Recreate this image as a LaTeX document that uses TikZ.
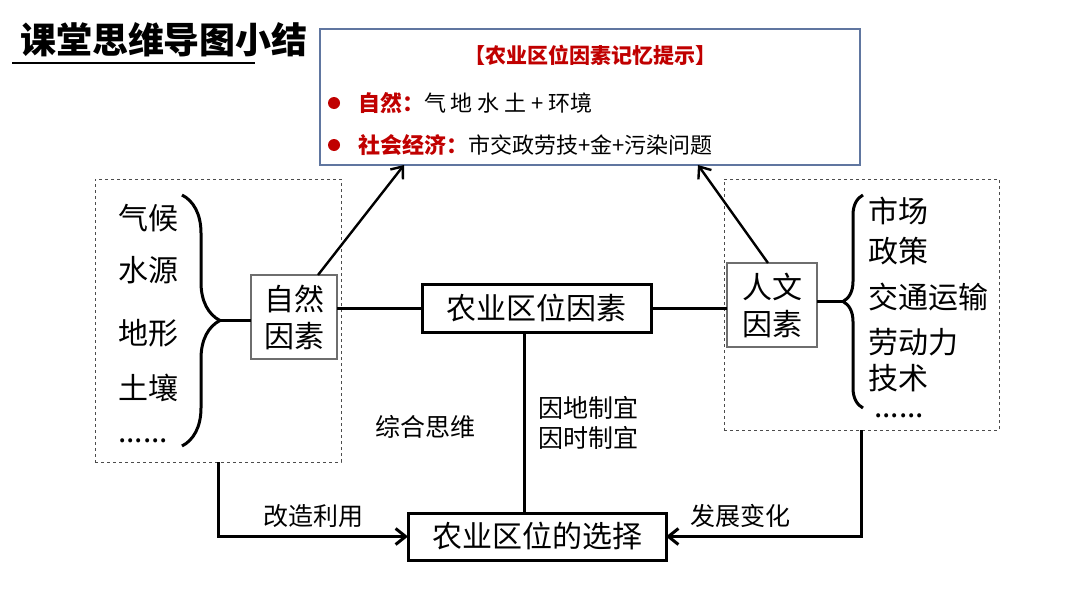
\documentclass[tikz,border=0pt]{standalone}
\usepackage{fontspec}
\setmainfont{Noto Sans CJK SC}
\usetikzlibrary{arrows.meta,positioning,calc,decorations.pathreplacing}
\definecolor{tipred}{RGB}{192,0,0}
\definecolor{frameblue}{RGB}{96,118,160}
\definecolor{boxgray}{RGB}{110,110,110}
\begin{document}
\begin{tikzpicture}[x=1pt, y=-1pt, every node/.style={inner sep=0pt, outer sep=0pt},
  big/.style={font=\fontsize{30}{37}\selectfont},
  mid/.style={font=\fontsize{25}{30}\selectfont},
  small/.style={font=\fontsize{22}{26}\selectfont},
  fbox/.style={draw=boxgray, line width=1.2pt, big, align=center, minimum width=86pt, minimum height=84pt},
  mainbox/.style={draw, line width=3pt, big, minimum height=48pt},
  grp/.style={draw=black!70, dashed, line width=0.9pt},
  link/.style={line width=3pt},
  arr/.style={-{Straight Barb[length=10pt,width=16pt]}, line width=2.4pt},
  curly/.style={decorate, line width=3pt, decoration={brace, amplitude=#1}}]
\useasboundingbox (0,0) rectangle (1080,608);
% title
\node[anchor=west, font=\fontsize{36}{40}\selectfont\bfseries] (title) at (20,40) {课堂思维导图小结};
\draw[line width=2.2pt] (12,63) -- (255,63);
% memory tip
\node[draw=frameblue, line width=1.4pt, minimum width=540pt, minimum height=136pt] (tip) at (590,97) {};
\node[font=\fontsize{21}{25}\selectfont\bfseries, text=tipred] (tiphead) at (590,55) {【农业区位因素记忆提示】};
\node[circle, fill=tipred, minimum size=12pt] (dot1) at (334,103) {};
\node[circle, fill=tipred, minimum size=12pt] (dot2) at (334,145) {};
\node[anchor=west, small] (tipnat) at (358,103) {\textcolor{tipred}{\bfseries 自然：}气 地 水 土 + 环境};
\node[anchor=west, small] (tiphum) at (358,145) {\textcolor{tipred}{\bfseries 社会经济：}市交政劳技+金+污染问题};
% groups
\node[grp, minimum width=246pt, minimum height=283pt] (natgroup) at (218,320.5) {};
\node[grp, minimum width=275pt, minimum height=251pt] (humgroup) at (861.5,304.5) {};
\foreach \y/\txt [count=\i] in {218/气候, 270/水源, 333/地形, 388/土壤}
  \node[anchor=west, big] (nat\i) at (118,\y) {\txt};
\node[anchor=base west, big] (natmore) at (118,442) {......};
\foreach \y/\txt [count=\i] in {211/市场, 251/政策, 297/交通运输, 342/劳动力, 378/技术}
  \node[anchor=west, big] (hum\i) at (868,\y) {\txt};
\node[anchor=base west, big] (hummore) at (874,417) {......};
\draw[curly=38pt] (182,195) -- (182,446);
\draw[curly=20pt] (863,408) -- (863,195);
\coordinate (lbtip) at (220,320.5);
\coordinate (rbtip) at (843,301.5);
% factor boxes
\node[fbox] (natural) at (294,317) {自然\\因素};
\node[fbox, minimum width=90pt] (human) at (772,305) {人文\\因素};
\node[mainbox, minimum width=229pt] (factors) at (536.5,308) {农业区位因素};
\node[mainbox, minimum width=258pt, minimum height=47pt] (choice) at (537,536.5) {农业区位的选择};
% links
\draw[link] (lbtip) -- (lbtip -| natural.west);
\draw[link] (human.east |- rbtip) -- (rbtip);
\draw[link] (natural.east |- factors.west) -- (factors.west);
\draw[link] (factors.east) -- (factors.east -| human.west);
\draw[link] ([xshift=-12.5pt]factors.south) -- ([xshift=-12.5pt]factors.south |- choice.north)
  node[midway, right=14pt, mid, align=left] (rule) {因地制宜\\因时制宜};
\node[mid] (synth) at (425,427) {综合思维};
\draw[arr] ([xshift=24pt]natural.north) -- ([xshift=-186pt]tip.south);
\draw[arr] ([xshift=-4pt]human.north) -- ([xshift=108pt]tip.south);
\draw[arr, link] (natgroup.south) |- (choice.west) node[pos=0.75, above=9pt, mid] (use) {改造利用};
\draw[arr, link] (humgroup.south) |- (choice.east) node[pos=0.81, above=9pt, mid] (change) {发展变化};
\end{tikzpicture}
\end{document}
